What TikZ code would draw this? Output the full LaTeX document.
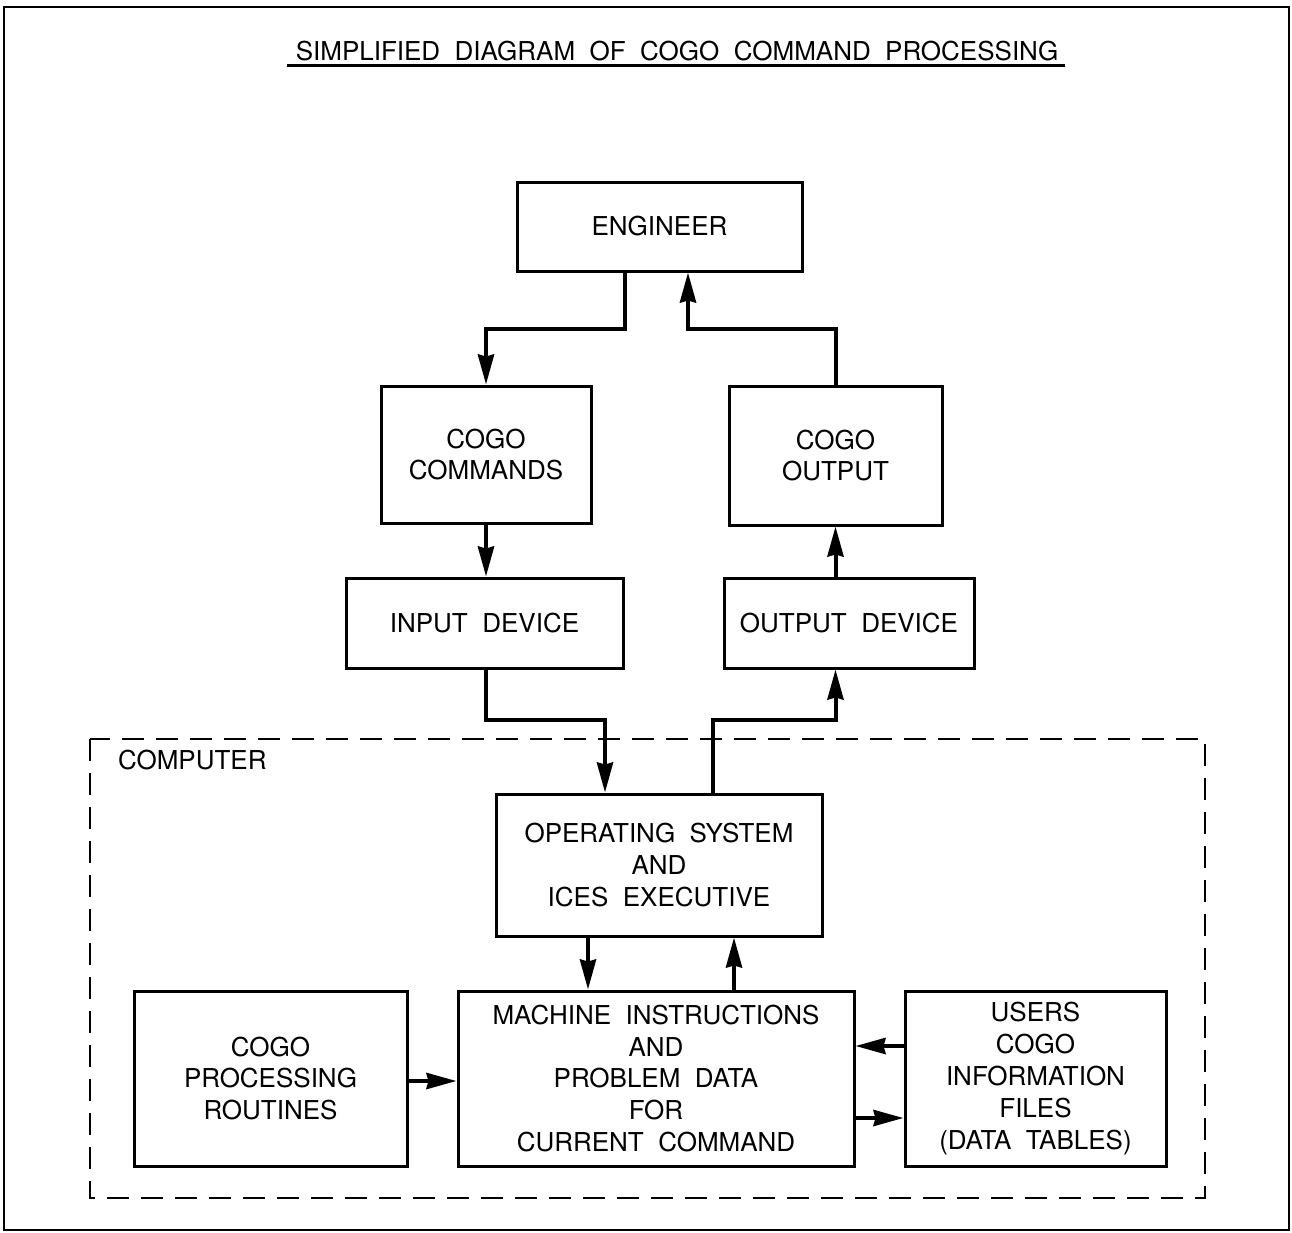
\documentclass[tikz,border=0pt]{standalone}
\usepackage{fontspec}
\setmainfont{TeX Gyre Heros}
\usepackage{tikz}
\usetikzlibrary{arrows.meta,positioning}

\begin{document}
\begin{tikzpicture}[x=0.5pt,y=-0.5pt,
                    every text node part/.style={align=center},
                    font=\fontsize{13}{15.9}\selectfont]
  \tikzstyle{block}=[draw=black,line width=1.5pt,inner sep=0pt]
  \tikzstyle{flow}=[line width=2pt,-{Stealth[length=15pt,width=8pt,inset=1pt]}]
  \tikzstyle{computer}=[line width=1pt,dash pattern=on 11pt off 6pt]

  \useasboundingbox (0,0) rectangle (1292,1233);
  \draw[line width=1.3pt] (4,7) rectangle (1289,1230);

  \node (title) at (677,51) {SIMPLIFIED\ \ DIAGRAM\ \ OF\ \ COGO\ \ COMMAND\ \ PROCESSING};
  \draw[line width=1.5pt] (287,65) -- (1065,65);

  \node[block,minimum width=142.5pt,minimum height=44.5pt] (eng)    at (659.5,226.5) {ENGINEER};
  \node[block,minimum width=105pt,minimum height=68.5pt]   (cmds)   at (486,454.5)   {COGO\\COMMANDS};
  \node[block,minimum width=106.5pt,minimum height=69.5pt] (cout)   at (835.5,455.5) {COGO\\OUTPUT};
  \node[block,minimum width=138.5pt,minimum height=45pt]   (indev)  at (484.5,623)   {INPUT\ \ DEVICE};
  \node[block,minimum width=125pt,minimum height=45pt]     (outdev) at (849,623)     {OUTPUT\ \ DEVICE};

  % computer
  \draw[computer] (90,739) rectangle (1205,1198);
  \node[anchor=west] (comp) at (111,760) {COMPUTER};

  \node[block,minimum width=163pt,minimum height=71pt]     (os)     at (659,865)     {OPERATING\ \ SYSTEM\\AND\\ICES\ \ EXECUTIVE};
  \node[block,minimum width=136.5pt,minimum height=87.5pt] (proc)   at (270.5,1078.5) {COGO\\PROCESSING\\ROUTINES};
  \node[block,minimum width=198pt,minimum height=87.5pt]   (mach)   at (656,1078.5)  {MACHINE\ \ INSTRUCTIONS\\AND\\PROBLEM\ \ DATA\\FOR\\CURRENT\ \ COMMAND};
  \node[block,minimum width=130.5pt,minimum height=87.5pt] (users)  at (1035.5,1078.5) {USERS\\COGO\\INFORMATION\\FILES\\(DATA\ \ TABLES)};

  \draw[flow] (eng.south -| 625,0) -- (625,329) -| (cmds.north);
  \draw[flow] (cout.north) |- (688,329) -- (eng.south -| 688,0);
  \draw[flow] (cmds.south) -- (cmds.south |- indev.north);
  \draw[flow] (outdev.north -| cout) -- (cout.south);
  \draw[flow] (indev.south -| cmds) -- (486,720) -| (os.north -| 605,0);
  \draw[flow] (os.north -| 713,0) -- (713,720) -| (outdev.south -| cout);
  \draw[flow] (os.south -| 588,0) -- (mach.north -| 588,0);
  \draw[flow] (mach.north -| 734,0) -- (os.south -| 734,0);
  \draw[flow] (proc.east |- 0,1081) -- (mach.west |- 0,1081);
  \draw[flow] (users.west |- 0,1046) -- (mach.east |- 0,1046);
  \draw[flow] (mach.east |- 0,1118) -- (users.west |- 0,1118);
\end{tikzpicture}
\end{document}
